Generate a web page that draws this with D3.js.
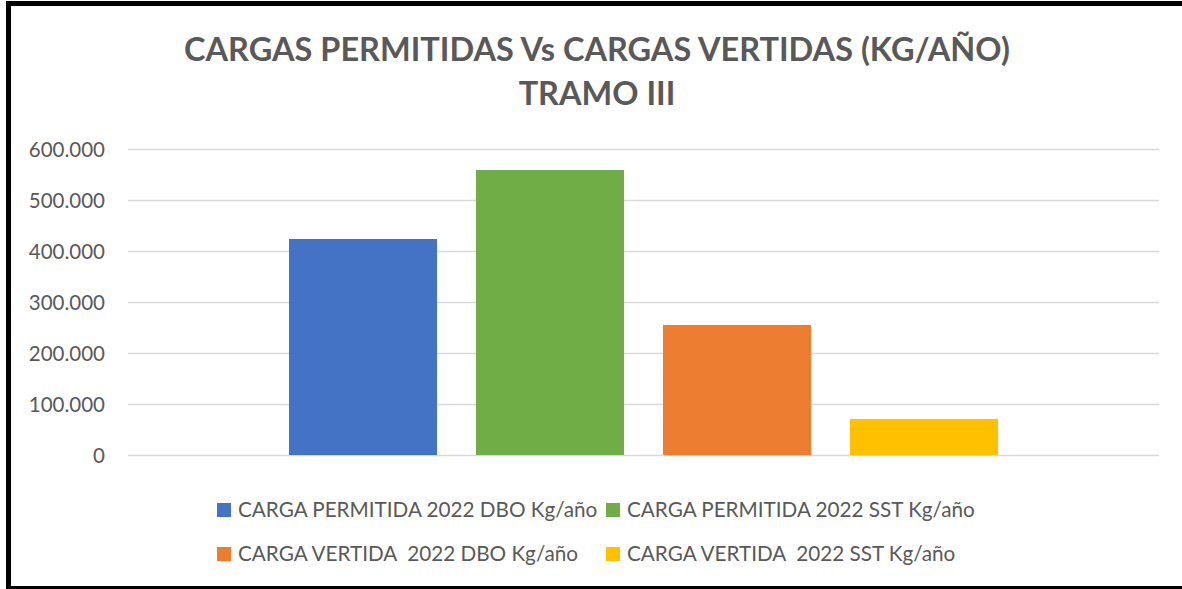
<!DOCTYPE html>
<html>
<head>
<meta charset="utf-8">
<script src="https://cdn.jsdelivr.net/npm/d3@7"></script>
<style>
  body { margin: 0; background: #fff; }
  text { font-family: Lato, "Open Sans", sans-serif; fill: #595959; }
</style>
</head>
<body>
<div id="chart"></div>
<script>
// chart values
const series = [
    "CARGA PERMITIDA 2022 DBO Kg/año",
    "CARGA PERMITIDA 2022 SST Kg/año",
    "CARGA VERTIDA  2022 DBO Kg/año",
    "CARGA VERTIDA  2022 SST Kg/año"
];
const values = [423500, 558800, 255000, 70600];
const colors = ["#4472C4", "#70AD47", "#ED7D31", "#FFC000"];
const yTicks = [0, 100000, 200000, 300000, 400000, 500000, 600000];
const titleLines = ["CARGAS PERMITIDAS Vs CARGAS VERTIDAS (KG/AÑO)", "TRAMO III"];

const W = 1182, H = 589;
const plot = {left: 128, right: 1159, top: 149, bottom: 455};

const svg = d3.select("#chart").append("svg")
    .attr("width", W)
    .attr("height", H);

// frame
svg.append("rect")
    .attr("x", 8.5).attr("y", 3.5)
    .attr("width", W + 10).attr("height", H - 4)
    .attr("fill", "none")
    .attr("stroke", "#000")
    .attr("stroke-width", 5);

// title
svg.append("g").selectAll("text")
    .data(titleLines)
    .join("text")
    .attr("x", 597)
    .attr("y", (d, i) => 61 + i * 44)
    .attr("text-anchor", "middle")
    .style("font-size", "32.5px")
    .style("font-weight", "bold")
    .text(d => d);

// scales
const x = d3.scaleBand()
    .domain(series)
    .range([plot.left, plot.right])
    .paddingInner(0.2086)
    .paddingOuter(0.861);

const y = d3.scaleLinear()
    .domain([0, 600000])
    .range([plot.bottom, plot.top]);

// gridlines
svg.append("g").selectAll("line")
    .data(yTicks)
    .join("line")
    .attr("x1", plot.left).attr("x2", plot.right)
    .attr("y1", d => Math.round(y(d)) + 0.5)
    .attr("y2", d => Math.round(y(d)) + 0.5)
    .attr("stroke", "#D9D9D9")
    .attr("stroke-width", 1.5);

// y axis labels
const yAxis = d3.axisLeft(y)
    .tickValues(yTicks)
    .tickSize(0)
    .tickPadding(0)
    .tickFormat(d => d === 0 ? "0" : d3.format(",")(d).replace(/,/g, "."));

svg.append("g")
    .attr("transform", "translate(105,0)")
    .call(yAxis)
    .call(g => g.select(".domain").remove())
    .call(g => g.selectAll("text")
        .attr("fill", "#595959")
        .attr("dy", "0.36em")
        .style("font-family", "Lato, sans-serif")
        .style("font-size", "20.5px"));

// bars
svg.append("g").selectAll("rect")
    .data(values)
    .join("rect")
    .attr("x", (d, i) => x(series[i]))
    .attr("y", d => y(d))
    .attr("width", x.bandwidth())
    .attr("height", d => y(0) - y(d))
    .attr("fill", (d, i) => colors[i]);

// legend
const legendPos = [[217, 517], [606, 517], [217, 561], [606, 561]];
const legend = svg.append("g").selectAll("g")
    .data(series)
    .join("g")
    .attr("transform", (d, i) => `translate(${legendPos[i][0]},${legendPos[i][1]})`);

legend.append("rect")
    .attr("x", 0).attr("y", -14)
    .attr("width", 14).attr("height", 14)
    .attr("fill", (d, i) => colors[i]);

legend.append("text")
    .attr("x", 21)
    .attr("y", 0)
    .style("font-size", "20.7px")
    .style("white-space", "pre")
    .text(d => d);
</script>
</body>
</html>
